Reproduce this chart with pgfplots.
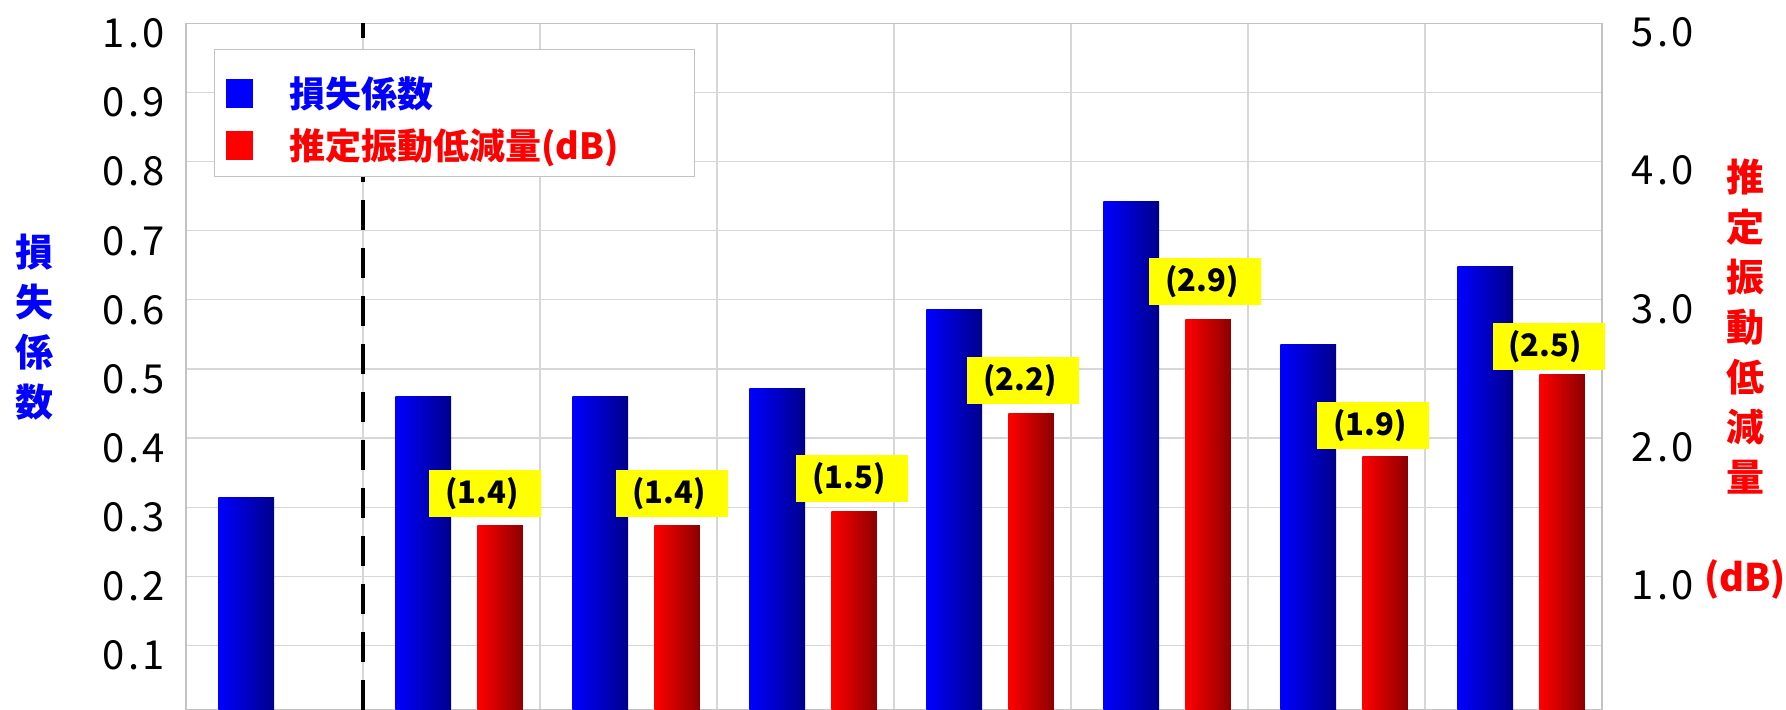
\documentclass[border=0pt]{standalone}
\usepackage{fontspec}
\setmainfont{Noto Sans CJK JP}
\usepackage{pgfplots}
\pgfplotsset{compat=1.18}

\definecolor{gridgray}{RGB}{215,215,215}
\definecolor{framegray}{RGB}{195,195,195}
\definecolor{xblue}{RGB}{0,0,255}
\definecolor{blueR}{RGB}{0,0,140}
\definecolor{xred}{RGB}{255,0,0}
\definecolor{redR}{RGB}{140,0,0}
\definecolor{xyellow}{RGB}{255,255,0}

% monospaced tick labels (one half-em cell per character)
\newcommand\tk[3]{\makebox[0.5em]{#1}\makebox[0.5em]{#2}\makebox[0.5em]{#3}}
% yellow value label
\newcommand\lab[1]{\makebox[56pt][l]{\hspace*{8pt}(#1)}}

\begin{document}
\begin{tikzpicture}
\pgfplotsset{
  common/.style={
    at={(93pt,0pt)}, anchor=south west,
    scale only axis, width=708pt, height=343.25pt,
    xmin=-0.5, xmax=7.5,
    major tick length=0pt,
    clip mode=individual,
    axis line style={framegray, line width=0.6pt},
    tick label style={font=\fontsize{20}{24}\selectfont},
  },
  % one plot per bar, so that each bar gets its own gradient
  bluebar/.style={ybar, bar width=0.315, bar shift=-0.16, draw=none,
    left color=xblue, right color=blueR, forget plot},
  redbar/.style={ybar, bar width=0.257, bar shift=0.275, draw=none,
    left color=xred, right color=redR, forget plot},
}
\begin{axis}[
  common,
  ymin=0.0064, ymax=1,
  xtick={0.5,1.5,...,6.5}, xticklabels={},
  ytick={0.1,0.2,0.3,0.4,0.5,0.6,0.7,0.8,0.9,1.0},
  yticklabels={\tk0.1,\tk0.2,\tk0.3,\tk0.4,\tk0.5,\tk0.6,\tk0.7,\tk0.8,\tk0.9,\tk1.0},
  yticklabel style={xshift=-7.5pt, yshift=-5pt},
  xmajorgrids, ymajorgrids,
  grid style={gridgray, line width=0.6pt},
  legend style={at={(axis description cs:0.0198,0.963)}, anchor=north west,
    draw=framegray, fill=white, font=\fontsize{18}{22}\selectfont\bfseries,
    cells={anchor=west}, inner xsep=6pt, inner ysep=5pt, row sep=5pt},
]
\addplot[bluebar] coordinates {(0,0.314)};
\addplot[bluebar] coordinates {(1,0.460)};
\addplot[bluebar] coordinates {(2,0.460)};
\addplot[bluebar] coordinates {(3,0.471)};
\addplot[bluebar] coordinates {(4,0.586)};
\addplot[bluebar] coordinates {(5,0.743)};
\addplot[bluebar] coordinates {(6,0.536)};
\addplot[bluebar] coordinates {(7,0.649)};
\addplot[black, line width=2.2pt, dash pattern=on 15pt off 9pt, dash phase=7.75pt, forget plot]
  coordinates {(0.5,1) (0.5,0)};
\addlegendimage{legend image code/.code={\fill[xblue] (0pt,-7pt) rectangle (13pt,7pt);
  \path (29pt,0pt) (0pt,17pt);}}
\addlegendentry{\textcolor{xblue}{損失係数}}
\addlegendimage{legend image code/.code={\fill[xred] (0pt,-7pt) rectangle (13pt,7pt);
  \path (29pt,0pt);}}
\addlegendentry{\textcolor{xred}{推定振動低減量(dB)}\hspace*{30pt}}
\node[font=\fontsize{19}{25}\selectfont\bfseries, text=xblue, align=center]
  at (axis description cs:-0.1073,0.558) {損\\失\\係\\数};
\node[font=\fontsize{19}{25}\selectfont\bfseries, text=xred, align=center]
  at (axis description cs:1.101,0.482) {推\\定\\振\\動\\低\\減\\量\\~\\(dB)};
\end{axis}

\begin{axis}[
  common,
  ymin=0.032, ymax=5,
  axis y line*=right, axis x line=none,
  ytick={1,2,3,4,5},
  yticklabels={\tk1.0,\tk2.0,\tk3.0,\tk4.0,\tk5.0},
  yticklabel style={xshift=12pt, yshift=-4.5pt},
]
\addplot[redbar] coordinates {(1,1.37)};
\addplot[redbar] coordinates {(2,1.37)};
\addplot[redbar] coordinates {(3,1.47)};
\addplot[redbar] coordinates {(4,2.18)};
\addplot[redbar] coordinates {(5,2.86)};
\addplot[redbar] coordinates {(6,1.87)};
\addplot[redbar] coordinates {(7,2.46)};
% yellow value labels, placed by their lower left corner
\addplot[draw=none, mark=none, point meta=explicit symbolic,
  nodes near coords, nodes near coords style={fill=xyellow, text=black,
    font=\fontsize{15.5}{18}\selectfont\bfseries, anchor=south west,
    minimum height=23.5pt, inner sep=0pt}]
  coordinates {(0.873,1.428)[\lab{1.4}] (1.929,1.428)[\lab{1.4}]
    (2.946,1.532)[\lab{1.5}] (3.912,2.246)[\lab{2.2}]
    (4.941,2.962)[\lab{2.9}] (5.890,1.915)[\lab{1.9}]
    (6.879,2.487)[\lab{2.5}]};
\end{axis}
\pgfresetboundingbox
\path[use as bounding box] (0pt,0pt) rectangle (893pt,355pt);
\end{tikzpicture}
\end{document}
